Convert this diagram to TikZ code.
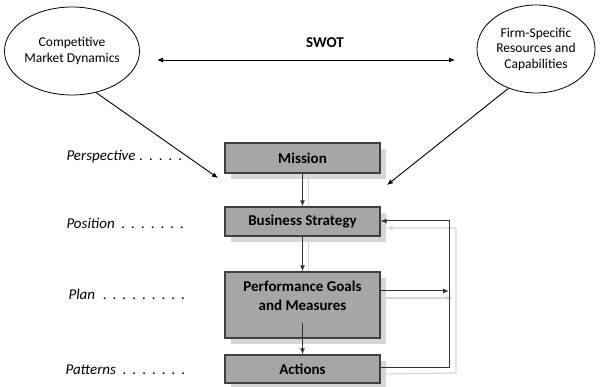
\documentclass[tikz,border=0pt]{standalone}
\usepackage{fontspec}
\setmainfont{Carlito}
\usetikzlibrary{arrows.meta,shapes.geometric,calc}
\definecolor{boxfill}{HTML}{A6A6A6}
\definecolor{boxline}{HTML}{404040}
\definecolor{shade}{HTML}{D6D6D6}
\definecolor{lineclr}{HTML}{333333}
\newcommand\dt{\makebox[9.8pt][c]{.}}
\begin{document}
\begin{tikzpicture}[x=1pt,y=-1pt,
  stage/.style={draw=boxline,line width=1.3pt,fill=boxfill,minimum width=155pt,
    inner sep=0pt,font=\fontsize{15}{19}\selectfont\bfseries,align=center,
    preaction={fill=shade,transform canvas={xshift=6pt,yshift=-6pt}}},
  oval/.style={draw=black,line width=0.8pt,ellipse,minimum width=118pt,minimum height=88pt,
    inner sep=0pt,align=center,font=\fontsize{13.5}{15.5}\selectfont},
  lbl/.style={font=\fontsize{15}{17}\selectfont\itshape,anchor=west},
  conn/.style={draw=lineclr,line width=1pt,-{Latex[length=6pt,width=5pt]}},
  shconn/.style={draw=shade,line width=1.2pt,-{Latex[length=6pt,width=5pt]}},
  shplain/.style={draw=shade,line width=1.2pt}]
\useasboundingbox (0,0) rectangle (600,387);
% ellipses
\node[oval] (cmd) at (72,51) {Competitive\\Market Dynamics};
\node[oval] (fsr) at (536,49) {Firm-Specific\\Resources and\\Capabilities};
\node[font=\fontsize{15}{17}\selectfont\bfseries] (swot) at (325,43) {SWOT};
\coordinate (swl) at (157,60);
\coordinate (swr) at (455,60);
\draw[draw=black,line width=0.9pt,{Latex[length=6pt,width=5pt]}-{Latex[length=6pt,width=5pt]}] (swl) -- (swr);
% boxes
\node[stage,minimum height=30pt] (mis) at (302.5,158) {Mission};
\node[stage,minimum height=29pt] (bs) at (302.5,221.5) {Business Strategy};
\node[stage,minimum height=66pt] (pg) at (302.5,305) {};
\node[font=\fontsize{15}{19}\selectfont\bfseries,align=center] (pgt) at (302.5,295.5) {Performance Goals\\and Measures};
\node[stage,minimum height=28pt] (act) at (302.5,369) {Actions};
% arrows from ellipses
\coordinate (la) at (218,178);
\coordinate (ra) at (387,185);
\draw[draw=black,line width=0.9pt,-{Latex[length=6pt,width=5pt]}] (cmd.-60) -- (la);
\draw[draw=black,line width=0.9pt,-{Latex[length=6pt,width=5pt]}] (fsr.-125) -- (ra);
% shadow connectors
\draw[shplain] ([xshift=6pt]mis.south) -- ([xshift=6pt]bs.north);
\draw[shplain] ([xshift=6pt]bs.south) -- ([xshift=6pt]pg.north);
\coordinate (sc1) at (456,373);
\coordinate (sc2) at (456,228);
\coordinate (sc3) at (453,298);
\draw[shconn] ([yshift=-5pt]act.east) -- (sc1) -- (sc2) -- ([xshift=6pt,yshift=-6.5pt]bs.east);
\draw[shconn] ([yshift=7pt]pg.east) -- (sc3);
% main connectors
\draw[conn] (mis) -- (bs);
\draw[conn] (bs) -- (pg);
\draw[conn] ([yshift=16pt]pg.south) -- (act.north);
\coordinate (c1) at (449,368);
\coordinate (c2) at (449,221);
\coordinate (c3) at (449,291);
\draw[conn] ([yshift=1pt]act.east) -- (c1) -- (c2) -- ([yshift=0.5pt]bs.east);
\draw[conn] ([yshift=14pt]pg.east) -- (c3);
% left labels
\node[lbl] (l1) at (63,157) {Perspective\hspace{1pt}\dt\dt\dt\dt\dt};
\node[lbl] (l2) at (63,223) {Position\hspace{4pt}\dt\dt\dt\dt\dt\dt\dt};
\node[lbl] (l3) at (65,294) {Plan\hspace{5pt}\dt\dt\dt\dt\dt\dt\dt\dt\dt};
\node[lbl] (l4) at (62,370) {Patterns\hspace{4pt}\dt\dt\dt\dt\dt\dt\dt};
\end{tikzpicture}
\end{document}
